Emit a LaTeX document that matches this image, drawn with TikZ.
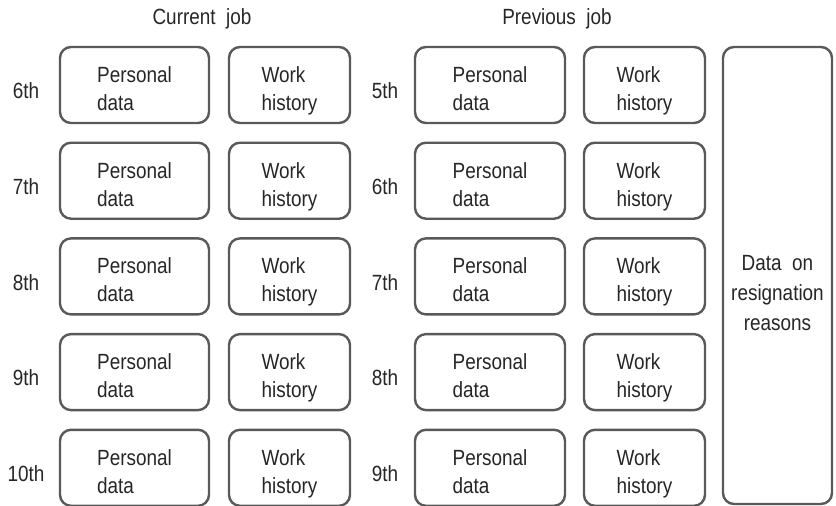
\documentclass[tikz,border=0pt]{standalone}
\usepackage{fontspec}
\setmainfont{Liberation Sans}[FakeStretch=0.86]
\newcommand\twoline[2]{\rule{0pt}{28pt}#1\\#2\rule[-5pt]{0pt}{5pt}}
\begin{document}
\begin{tikzpicture}[x=1pt,y=-1pt,
  card/.style={draw=black!65, line width=2.4pt, rounded corners=11pt, inner sep=0pt, align=left,
    font=\fontsize{22}{28}\selectfont, text=black!85},
  lbl/.style={font=\fontsize{22}{28}\selectfont, text=black!85, inner sep=0pt},
]
\useasboundingbox (0,0) rectangle (836,506);
\node[lbl] (hcur) at (202,19) {Current\ \ job};
\node[lbl] (hprev) at (557,19) {Previous\ \ job};
\foreach \i/\a/\b in {0/6th/5th,1/7th/6th,2/8th/7th,3/9th/8th,4/10th/9th}{
  \pgfmathsetmacro{\yc}{47+95.7*\i+38}
  \node[card, minimum width=149pt, minimum height=76pt] (lp\i) at (134.5,\yc) {\twoline{Personal}{data}};
  \node[card, minimum width=121pt, minimum height=76pt] (lw\i) at (289.5,\yc) {\twoline{Work}{history}};
  \node[card, minimum width=150pt, minimum height=76pt] (rp\i) at (490,\yc) {\twoline{Personal}{data}};
  \node[card, minimum width=121pt, minimum height=76pt] (rw\i) at (644.5,\yc) {\twoline{Work}{history}};
  \node[lbl] (ll\i) at (26,\yc+6) {\a};
  \node[lbl] (rl\i) at (385,\yc+6) {\b};
}
\node[card, align=center, minimum width=109pt, minimum height=457pt, font=\fontsize{22}{30}\selectfont] (tall) at (777.5,275.5) {\rule{0pt}{51pt}Data\ \ on\\resignation\\reasons};
\end{tikzpicture}
\end{document}
